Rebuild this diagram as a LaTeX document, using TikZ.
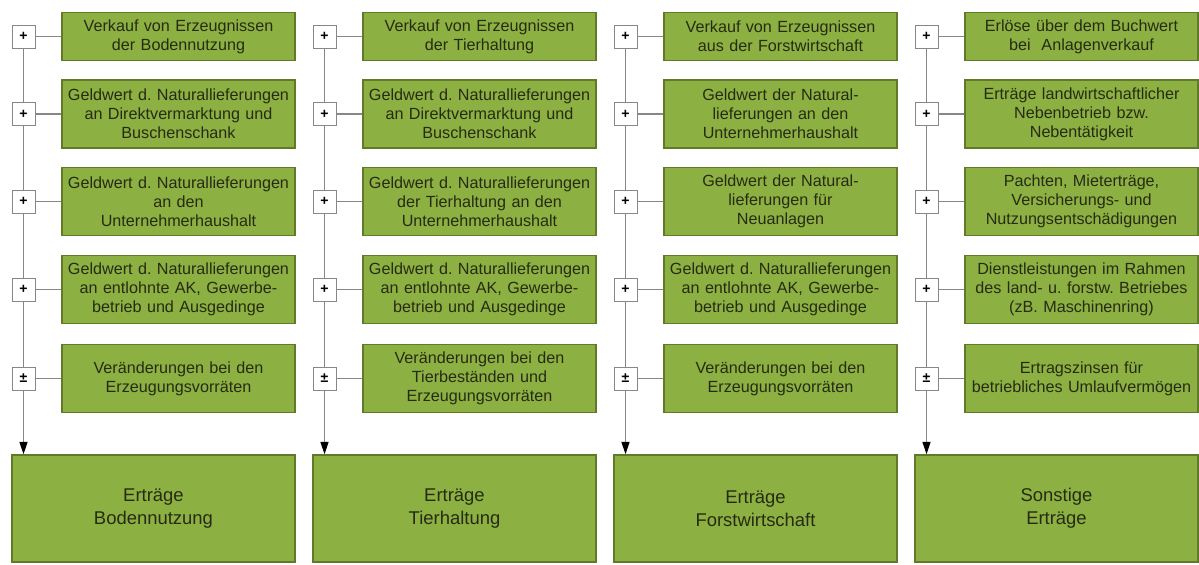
\documentclass[tikz,border=0pt]{standalone}
\usepackage{fontspec}
\setmainfont{Liberation Sans}
\definecolor{leafgreen}{RGB}{141, 176, 66}
\definecolor{leafdark}{RGB}{96, 122, 40}
\definecolor{inkdark}{RGB}{38, 44, 20}
\definecolor{linegray}{RGB}{135, 135, 135}
\usetikzlibrary{arrows.meta, positioning, calc}

\tikzset{
  item/.style={draw=leafdark, fill=leafgreen, line width=0.8pt, text=inkdark, align=center,
    text width=4.6cm, inner xsep=0.03cm, minimum height=1.36cm, font=\fontsize{9.2}{10.8}\selectfont\frenchspacing},
  sumbox/.style={draw=leafdark, fill=leafgreen, line width=0.8pt, text=inkdark, align=center,
    minimum width=5.66cm, minimum height=2.14cm, font=\fontsize{10.5}{13}\selectfont},
  sign/.style={draw=linegray, fill=white, minimum size=0.46cm, inner sep=0pt, font=\fontsize{8}{8}\selectfont\bfseries},
  link/.style={draw=linegray, line width=0.6pt},
  flow/.style={draw=linegray, line width=0.6pt},
  flowtip/.style={draw=linegray, line width=0.6pt, -{Triangle[length=7pt, width=4.5pt, color=black, fill=black]}}
}

\begin{document}
\begin{tikzpicture}
  \useasboundingbox (0, 0) rectangle (23.98, -11.3);

  % Bodennutzung
  \node[item, minimum height=0.96cm] (bod1) at (3.57, -0.73) {Verkauf von Erzeugnissen\\der Bodennutzung};
  \node[item] (bod2) at (3.57, -2.28) {Geldwert d. Naturallieferungen\\an Direktvermarktung und\\Buschenschank};
  \node[item] (bod3) at (3.57, -4.03) {Geldwert d. Naturallieferungen\\an den\\Unternehmerhaushalt};
  \node[item] (bod4) at (3.57, -5.79) {Geldwert d. Naturallieferungen\\an entlohnte AK, Gewerbe-\\betrieb und Ausgedinge};
  \node[item] (bod5) at (3.57, -7.57) {Veränderungen bei den\\Erzeugungsvorräten};
  \node[sumbox] (bodsum) at (3.07, -10.17) {Erträge\\Bodennutzung};

  \node[sign] (pbod1) at (0.47, -0.73) {+};
  \node[sign] (pbod2) at (0.47, -2.28) {+};
  \node[sign] (pbod3) at (0.47, -4.03) {+};
  \node[sign] (pbod4) at (0.47, -5.79) {+};
  \node[sign] (pbod5) at (0.47, -7.57) {±};

  % Tierhaltung
  \node[item, minimum height=0.96cm] (tier1) at (9.59, -0.73) {Verkauf von Erzeugnissen\\der Tierhaltung};
  \node[item] (tier2) at (9.59, -2.28) {Geldwert d. Naturallieferungen\\an Direktvermarktung und\\Buschenschank};
  \node[item] (tier3) at (9.59, -4.03) {Geldwert d. Naturallieferungen\\der Tierhaltung an den\\Unternehmerhaushalt};
  \node[item] (tier4) at (9.59, -5.79) {Geldwert d. Naturallieferungen\\an entlohnte AK, Gewerbe-\\betrieb und Ausgedinge};
  \node[item] (tier5) at (9.59, -7.57) {Veränderungen bei den\\Tierbeständen und\\Erzeugungsvorräten};
  \node[sumbox] (tiersum) at (9.09, -10.17) {Erträge\\Tierhaltung};

  \node[sign] (ptier1) at (6.49, -0.73) {+};
  \node[sign] (ptier2) at (6.49, -2.28) {+};
  \node[sign] (ptier3) at (6.49, -4.03) {+};
  \node[sign] (ptier4) at (6.49, -5.79) {+};
  \node[sign] (ptier5) at (6.49, -7.57) {±};

  % Forstwirtschaft
  \node[item, minimum height=0.96cm] (forst1) at (15.61, -0.73) {Verkauf von Erzeugnissen\\aus der Forstwirtschaft};
  \node[item] (forst2) at (15.61, -2.28) {Geldwert der Natural-\\lieferungen an den\\Unternehmerhaushalt};
  \node[item] (forst3) at (15.61, -4.03) {Geldwert der Natural-\\lieferungen für\\Neuanlagen};
  \node[item] (forst4) at (15.61, -5.79) {Geldwert d. Naturallieferungen\\an entlohnte AK, Gewerbe-\\betrieb und Ausgedinge};
  \node[item] (forst5) at (15.61, -7.57) {Veränderungen bei den\\Erzeugungsvorräten};
  \node[sumbox] (forstsum) at (15.11, -10.17) {Erträge\\Forstwirtschaft};

  \node[sign] (pforst1) at (12.51, -0.73) {+};
  \node[sign] (pforst2) at (12.51, -2.28) {+};
  \node[sign] (pforst3) at (12.51, -4.03) {+};
  \node[sign] (pforst4) at (12.51, -5.79) {+};
  \node[sign] (pforst5) at (12.51, -7.57) {±};

  % Sonstige
  \node[item, minimum height=0.96cm] (sonst1) at (21.63, -0.73) {Erlöse über dem Buchwert\\bei\ \ Anlagenverkauf};
  \node[item] (sonst2) at (21.63, -2.28) {Erträge landwirtschaftlicher\\Nebenbetrieb bzw.\\Nebentätigkeit};
  \node[item] (sonst3) at (21.63, -4.03) {Pachten, Mieterträge,\\Versicherungs- und\\Nutzungsentschädigungen};
  \node[item] (sonst4) at (21.63, -5.79) {Dienstleistungen im Rahmen\\des land- u. forstw. Betriebes\\(zB. Maschinenring)};
  \node[item] (sonst5) at (21.63, -7.57) {Ertragszinsen für\\betriebliches Umlaufvermögen};
  \node[sumbox] (sonstsum) at (21.13, -10.17) {Sonstige\\Erträge};

  \node[sign] (psonst1) at (18.53, -0.73) {+};
  \node[sign] (psonst2) at (18.53, -2.28) {+};
  \node[sign] (psonst3) at (18.53, -4.03) {+};
  \node[sign] (psonst4) at (18.53, -5.79) {+};
  \node[sign] (psonst5) at (18.53, -7.57) {±};

  % Verbindungen
  \draw[link] (pbod1) -- (bod1) (pbod2) -- (bod2) (pbod3) -- (bod3) (pbod4) -- (bod4) (pbod5) -- (bod5);
  \draw[flow] (pbod1) -- (pbod2) (pbod2) -- (pbod3) (pbod3) -- (pbod4) (pbod4) -- (pbod5);
  \draw[flowtip] (pbod5) -- (pbod5 |- bodsum.north);

  \draw[link] (ptier1) -- (tier1) (ptier2) -- (tier2) (ptier3) -- (tier3) (ptier4) -- (tier4) (ptier5) -- (tier5);
  \draw[flow] (ptier1) -- (ptier2) (ptier2) -- (ptier3) (ptier3) -- (ptier4) (ptier4) -- (ptier5);
  \draw[flowtip] (ptier5) -- (ptier5 |- tiersum.north);

  \draw[link] (pforst1) -- (forst1) (pforst2) -- (forst2) (pforst3) -- (forst3) (pforst4) -- (forst4) (pforst5) -- (forst5);
  \draw[flow] (pforst1) -- (pforst2) (pforst2) -- (pforst3) (pforst3) -- (pforst4) (pforst4) -- (pforst5);
  \draw[flowtip] (pforst5) -- (pforst5 |- forstsum.north);

  \draw[link] (psonst1) -- (sonst1) (psonst2) -- (sonst2) (psonst3) -- (sonst3) (psonst4) -- (sonst4) (psonst5) -- (sonst5);
  \draw[flow] (psonst1) -- (psonst2) (psonst2) -- (psonst3) (psonst3) -- (psonst4) (psonst4) -- (psonst5);
  \draw[flowtip] (psonst5) -- (psonst5 |- sonstsum.north);
\end{tikzpicture}
\end{document}
